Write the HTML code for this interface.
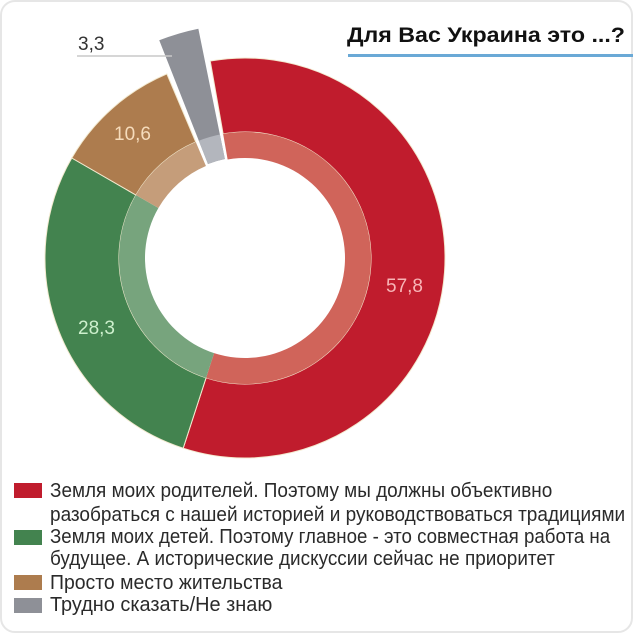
<!DOCTYPE html>
<html><head><meta charset="utf-8"><style>
html,body{margin:0;padding:0;background:#fff;}
svg{display:block;font-family:"Liberation Sans","DejaVu Sans",sans-serif;}
.l{position:absolute;left:50px;font-family:"Liberation Sans","DejaVu Sans",sans-serif;font-size:20px;color:#2a2a2a;white-space:nowrap;transform-origin:0 0;line-height:20px;}
</style></head><body>
<div style="position:relative;width:633px;height:633px;">
<svg id="s" width="633" height="633" viewBox="0 0 633 633" style="position:absolute;left:0;top:0">
<rect x="1" y="1" width="631" height="631" rx="14" fill="#fff" stroke="#e6e6e6" stroke-width="2"/>
<g id="pie"></g>
<line x1="77" y1="56" x2="172" y2="56" stroke="#c8c8c8" stroke-width="1.5"/>
<text x="78" y="50" font-size="19" fill="#333">3,3</text>
<text x="347" y="42" font-size="21" font-weight="bold" fill="#111" textLength="278" lengthAdjust="spacingAndGlyphs">Для Вас Украина это ...?</text>
<rect x="348" y="54" width="285" height="3" fill="#6aa9d6"/>
<text x="386" y="292" font-size="19" fill="#f8b4b6">57,8</text>
<text x="78" y="334" font-size="19" fill="#cdf0cd">28,3</text>
<text x="114" y="140" font-size="19" fill="#f6dcbc">10,6</text>
<rect x="14" y="483" width="28" height="15" fill="#c01c2d"/>
<rect x="14" y="530" width="28" height="15" fill="#43834f"/>
<rect x="14" y="575" width="28" height="15" fill="#ad7c4e"/>
<rect x="14" y="598" width="28" height="15" fill="#8e9097"/>
</svg>
<span class="l" data-w="502" style="top:481px">Земля моих родителей. Поэтому мы должны объективно</span>
<span class="l" data-w="575" style="top:505px">разобраться с нашей историей и руководствоваться традициями</span>
<span class="l" data-w="560" style="top:527px">Земля моих детей. Поэтому главное - это совместная работа на</span>
<span class="l" data-w="505" style="top:549px">будущее. А исторические дискуссии сейчас не приоритет</span>
<span class="l" data-w="232" style="top:573px">Просто место жительства</span>
<span class="l" data-w="222" style="top:595px">Трудно сказать/Не знаю</span>
</div>
<script>
(function(){
var cx=245,cy=258;
function pt(r,a){var t=a*Math.PI/180;return [cx+r*Math.sin(t),cy-r*Math.cos(t)];}
function arc(r0,r1,a0,a1){var p0=pt(r1,a0),p1=pt(r1,a1),p2=pt(r0,a1),p3=pt(r0,a0);var l=(a1-a0)>180?1:0;
return "M"+p0+"A"+r1+","+r1+" 0 "+l+" 1 "+p1+"L"+p2+"A"+r0+","+r0+" 0 "+l+" 0 "+p3+"Z";}
var g=document.getElementById("pie"),h="";
function add(d,f,s){h+='<path d="'+d+'" fill="'+f+'"'+(s?' stroke="#f3ead0" stroke-width="1"':'')+'/>';}
var segs=[[-10,198,"#c01c2d","#d0645a",200],[198,300,"#43834f","#77a47d",200],[300,337,"#ad7c4e","#c59d7a",200]];
segs.forEach(function(s){add(arc(126,s[4],s[0],s[1]),s[2],1);add(arc(100,126,s[0],s[1]),s[3],0);});
add(arc(101,234,338.5,348.5),"#8e9097",0);
add(arc(101,126,338.5,348.5),"#b3b6bd",0);
g.innerHTML=h;
var ls=document.querySelectorAll('.l');
for(var i=0;i<ls.length;i++){var e=ls[i];var w=e.offsetWidth;var t=+e.getAttribute('data-w');if(w>0)e.style.transform='scaleX('+(t/w)+')';}
})();
</script>
</body></html>
